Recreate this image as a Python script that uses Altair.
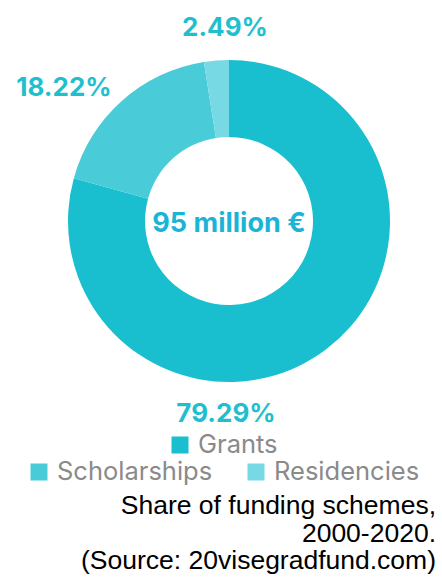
import altair as alt
import pandas as pd

categories = ["Grants", "Scholarships", "Residencies"]
shares = [79.29, 18.22, 2.49]
share_labels = ["79.29%", "18.22%", "2.49%"]
colors = ["#19bfcf", "#49ccd8", "#77d9e3"]
center_label = "95 million €"
caption_lines = ["Share of funding schemes,", "2000-2020.", "(Source: 20visegradfund.com)"]

df = pd.DataFrame({
    "category": categories,
    "share": shares,
    "label": share_labels,
    "order": list(range(len(categories))),
})

color_scale = alt.Scale(domain=categories, range=colors)
CX, CY = 229, 221

base = alt.Chart(df)

donut = base.mark_arc(innerRadius=84, outerRadius=161, stroke=None).encode(
    theta=alt.Theta("share:Q", stack=True),
    order=alt.Order("order:Q"),
    color=alt.Color("category:N", scale=color_scale, legend=None),
    x=alt.value(CX),
    y=alt.value(CY),
)

label_font = "Inter"
label_pos = {"Grants": (226, 414), "Scholarships": (64, 88), "Residencies": (225, 28)}
pct_layers = []
for cat, (lx, ly) in label_pos.items():
    pct_layers.append(
        base.transform_filter(alt.datum.category == cat)
        .mark_text(font=label_font, fontWeight="bold", fontSize=26, color="#1fbfcf",
                   align="center", baseline="middle")
        .encode(text="label:N", x=alt.value(lx), y=alt.value(ly))
    )

center = alt.Chart(pd.DataFrame({"t": [center_label]})).mark_text(
    font=label_font, fontWeight="bold", fontSize=27, color="#1ab4d6",
    align="center", baseline="middle"
).encode(text="t:N", x=alt.value(CX), y=alt.value(224))

legend_pos = {"Grants": (180, 445), "Scholarships": (39, 472), "Residencies": (256, 472)}
legend_layers = []
for cat, (sx, sy) in legend_pos.items():
    item = base.transform_filter(alt.datum.category == cat)
    legend_layers.append(
        item.mark_square(size=289, opacity=1).encode(
            x=alt.value(sx), y=alt.value(sy),
            color=alt.Color("category:N", scale=color_scale, legend=None))
    )
    legend_layers.append(
        item.mark_text(font="Inter", fontSize=25.5, color="#8a8a8a",
                       align="left", baseline="middle")
        .encode(text="category:N", x=alt.value(sx + 18), y=alt.value(sy))
    )

cap_df = pd.DataFrame({"line": caption_lines, "i": list(range(len(caption_lines)))})
caption_layers = []
for i, line in enumerate(caption_lines):
    caption_layers.append(
        alt.Chart(cap_df).transform_filter(alt.datum.i == i)
        .mark_text(font="Liberation Sans", fontSize=26.5, color="#000000",
                   align="right", baseline="alphabetic")
        .encode(text="line:N", x=alt.value(436), y=alt.value(514 + 27.5 * i))
    )

chart = alt.layer(donut, *pct_layers, center, *legend_layers, *caption_layers).properties(
    width=442, height=580, padding=0, autosize="none", background="white"
).configure_view(stroke=None)

chart.save("out.html", embed_options={"renderer": "svg", "actions": False})
